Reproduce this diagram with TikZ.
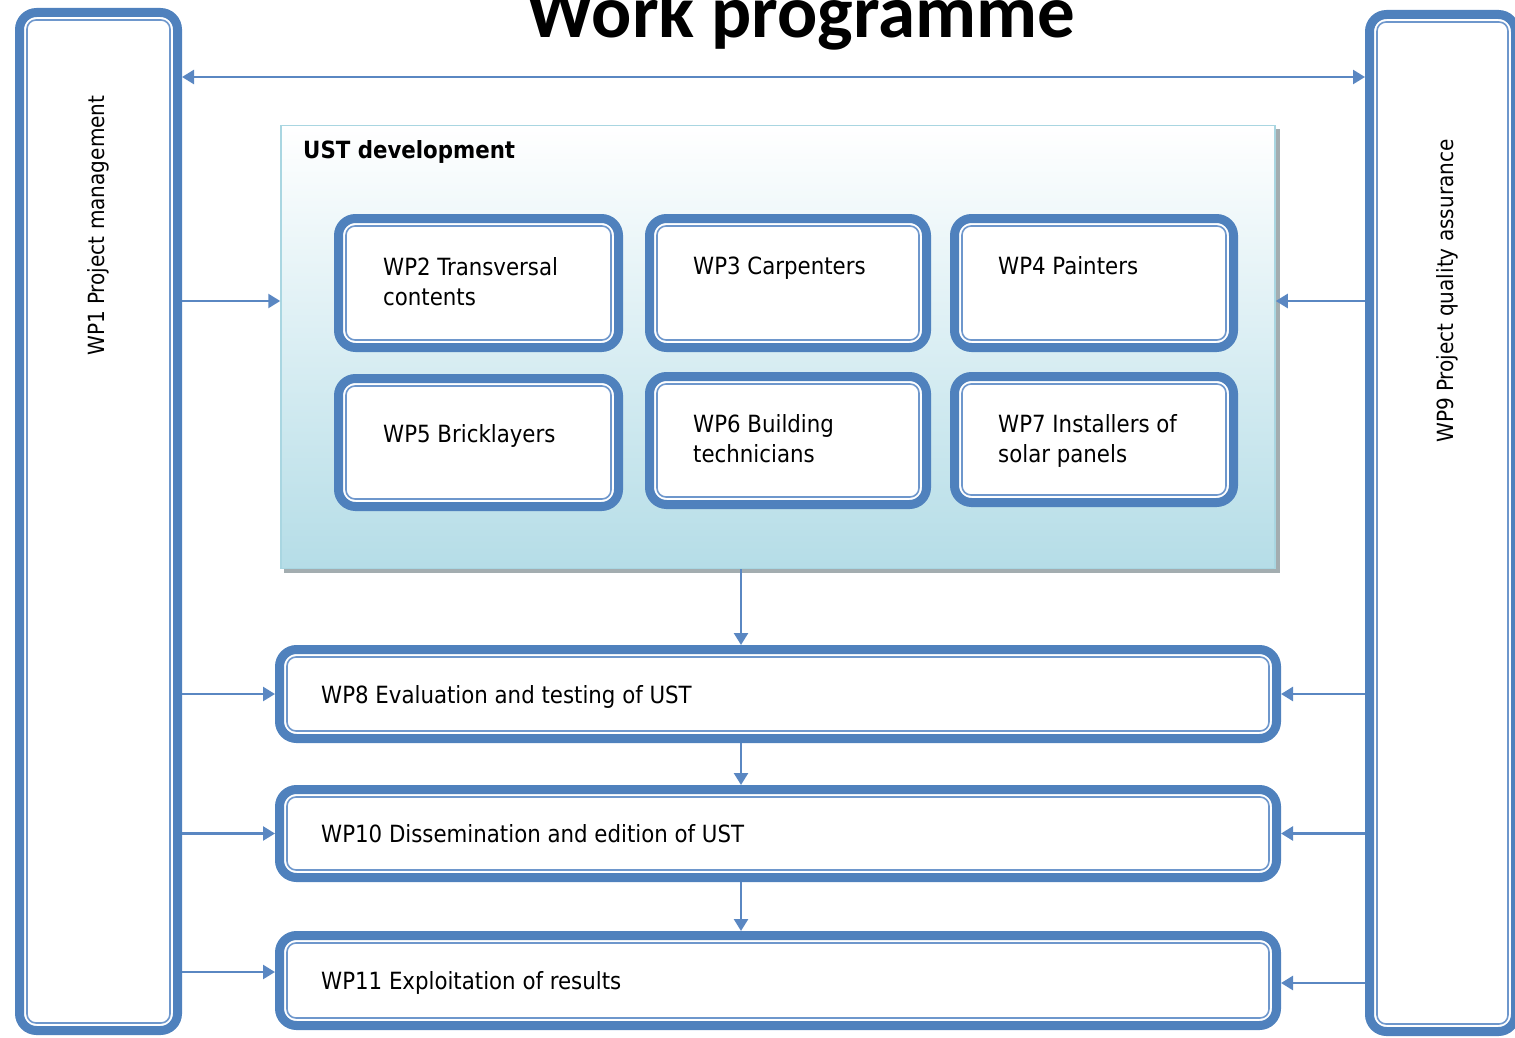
\documentclass[tikz,border=0pt]{standalone}
\usepackage{fontspec}
\setmainfont{DejaVu Sans}
\newfontfamily\cond{DejaVu Sans Condensed}
\newfontfamily\titlefont{Carlito}
\usetikzlibrary{arrows.meta}
\definecolor{wpblue}{HTML}{4F81BD}
\definecolor{wpthin}{HTML}{6E97CC}
\definecolor{arrblue}{HTML}{5A87C2}
\definecolor{ustborder}{HTML}{A9D6E1}
\definecolor{ustbottom}{HTML}{B5DDE7}
\definecolor{shadowgray}{HTML}{A3ADB0}
\tikzset{
  wpouter/.style={draw=wpblue, line width=9pt, rounded corners=17pt, fill=white, rectangle, inner sep=0pt},
  wpinner/.style={draw=wpthin, line width=1.6pt, rounded corners=9pt},
  lbl/.style={font=\cond\fontsize{23.7}{30}\selectfont, anchor=base west, align=left, inner sep=0pt},
  vlbl/.style={font=\cond\fontsize{22.3}{28}\selectfont, anchor=base west, inner sep=0pt, rotate=90},
  arr/.style={draw=arrblue, line width=2.5pt, -{Triangle[length=12pt,width=14pt]}},
  arrboth/.style={draw=arrblue, line width=2.5pt, {Triangle[length=12pt,width=14pt]}-{Triangle[length=12pt,width=14pt]}},
}
\newcommand{\wpbox}[5]{%
  \pgfmathsetmacro{\bw}{#4-#2-9}\pgfmathsetmacro{\bh}{#5-#3-9}%
  \node[wpouter, minimum width=\bw pt, minimum height=\bh pt] (#1) at ({(#2+#4)/2},{(#3+#5)/2}) {};
  \draw[wpinner] ([shift={(12,12)}]#1.north west) rectangle ([shift={(-12,-12)}]#1.south east);
}
\begin{document}
\begin{tikzpicture}[x=1pt,y=-1pt]
\useasboundingbox (0,0) rectangle (1515,1038);
\clip (0,0) rectangle (1515,1038);
% title
\node[font=\titlefont\bfseries\fontsize{75}{80}\selectfont, anchor=base, inner sep=0pt] (title) at (801,38) {Work programme};
% side boxes
\wpbox{wp1}{15}{8}{182}{1035}
\wpbox{wp9}{1365}{10}{1520}{1036}
\node[vlbl] (t1) at (104,356) {WP1 Project management};
\node[vlbl] (t9) at (1453,443) {WP9 Project quality assurance};
% UST container
\fill[shadowgray] (284,129) rectangle (1280,573);
\node[rectangle, draw=ustborder, line width=1.5pt, top color=white, bottom color=ustbottom,
  minimum width=994pt, minimum height=443pt, inner sep=0pt] (ust) at (778,347) {};
\node[font=\cond\bfseries\fontsize{23.7}{28}\selectfont, anchor=base west, inner sep=0pt] (ustlbl) at (303,158) {UST development};
% inner boxes
\wpbox{wp2}{334}{214}{623}{352}
\wpbox{wp3}{645}{214}{931}{352}
\wpbox{wp4}{950}{214}{1238}{352}
\wpbox{wp5}{334}{374}{623}{511}
\wpbox{wp6}{645}{372}{931}{509}
\wpbox{wp7}{950}{372}{1238}{507}
\node[lbl] (t2) at (383,305) {WP2 Transversal\\contents};
\node[lbl] (t3) at (693,274) {WP3 Carpenters};
\node[lbl] (t4) at (998,274) {WP4 Painters};
\node[lbl] (t5) at (383,442) {WP5 Bricklayers};
\node[lbl] (t6) at (693,462) {WP6 Building\\technicians};
\node[lbl] (t7) at (998,462) {WP7 Installers of\\solar panels};
% long boxes
\wpbox{wp8}{275}{645}{1281}{743}
\wpbox{wp10}{275}{785}{1281}{882}
\wpbox{wp11}{275}{931}{1281}{1030}
\node[lbl] (t8) at (321,703) {WP8 Evaluation and testing of UST};
\node[lbl] (t10) at (321,842) {WP10 Dissemination and edition of UST};
\node[lbl] (t11) at (321,989) {WP11 Exploitation of results};
% connectors
\coordinate (ytop) at (0,77);
\coordinate (yust) at (0,301);
\coordinate (y11l) at (0,972);
\coordinate (y11r) at (0,983);
\coordinate (xdown) at (741,0);
\draw[arrboth] (wp1.east |- ytop) -- (wp9.west |- ytop);
\draw[arr] (wp1.east |- yust) -- (ust.west |- yust);
\draw[arr] (wp9.west |- yust) -- (ust.east |- yust);
\draw[arr] (wp1.east |- wp8.west) -- (wp8.west);
\draw[arr] (wp9.west |- wp8.east) -- (wp8.east);
\draw[arr] (wp1.east |- wp10.west) -- (wp10.west);
\draw[arr] (wp9.west |- wp10.east) -- (wp10.east);
\draw[arr] (wp1.east |- y11l) -- (wp11.west |- y11l);
\draw[arr] (wp9.west |- y11r) -- (wp11.east |- y11r);
\draw[arr] (ust.south -| xdown) -- (wp8.north -| xdown);
\draw[arr] (wp8.south -| xdown) -- (wp10.north -| xdown);
\draw[arr] (wp10.south -| xdown) -- (wp11.north -| xdown);
\end{tikzpicture}
\end{document}
